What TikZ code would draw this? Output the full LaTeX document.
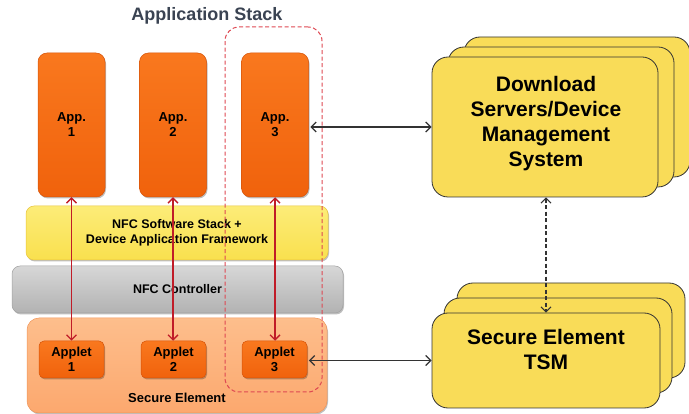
\documentclass[tikz,border=0pt]{standalone}
\usepackage{fontspec}
\setmainfont{Liberation Sans}
\usetikzlibrary{arrows.meta,shadows}
\definecolor{appedge}{RGB}{214,84,10}
\definecolor{appdark}{RGB}{240,98,12}
\definecolor{applight}{RGB}{249,120,30}
\definecolor{ylbar}{RGB}{249,224,78}
\definecolor{ylbarlt}{RGB}{252,236,120}
\definecolor{ylbaredge}{RGB}{232,196,58}
\definecolor{ylbox}{RGB}{249,220,88}
\definecolor{grbar}{RGB}{178,178,178}
\definecolor{grbarlt}{RGB}{215,215,215}
\definecolor{gredge}{RGB}{160,160,160}
\definecolor{sefill}{RGB}{252,168,110}
\definecolor{selight}{RGB}{253,190,140}
\definecolor{seedge}{RGB}{240,150,90}
\definecolor{redarr}{RGB}{192,28,40}
\definecolor{reddash}{RGB}{222,72,82}
\definecolor{titlecol}{RGB}{58,67,82}
\tikzset{
  softshadow/.style={drop shadow={shadow xshift=1pt,shadow yshift=-1.5pt,opacity=0.25,fill=black}},
  appbox/.style={rounded corners=9pt,draw=appedge,line width=0.5pt,top color=applight,bottom color=appdark,softshadow,
    minimum width=67pt,minimum height=144pt,font=\bfseries\fontsize{13}{15}\selectfont,align=center,inner sep=0pt},
  appletbox/.style={rounded corners=5pt,draw=appedge,line width=0.5pt,top color=applight,bottom color=appdark,softshadow,
    minimum width=65pt,minimum height=37pt,font=\bfseries\fontsize{13}{15.5}\selectfont,align=center,inner sep=0pt},
  barbox/.style={rounded corners=8pt,line width=0.5pt,softshadow,font=\bfseries\fontsize{12.5}{15.5}\selectfont,align=center,inner sep=0pt},
  bigbox/.style={rounded corners=16pt,draw=black!80,line width=0.8pt,fill=ylbox,minimum width=226pt,inner sep=0pt},
  bigtext/.style={font=\bfseries\fontsize{21}{25}\selectfont,align=center,inner sep=0pt},
  redarrow/.style={draw=redarr,line width=1.3pt,{Straight Barb[length=5pt,width=10pt]}-{Straight Barb[length=5pt,width=10pt]}},
  blkarrow/.style={draw=black!80,line width=1.3pt,{Straight Barb[length=5pt,width=10pt]}-{Straight Barb[length=5pt,width=10pt]}},
  dasharrow/.style={blkarrow,line width=1.1pt,dash pattern=on 4pt off 2.5pt},
  stackframe/.style={draw=reddash,line width=1pt,dash pattern=on 4pt off 2.5pt,rounded corners=14pt,inner sep=0pt,
    minimum width=97pt,minimum height=365pt}
}
\begin{document}
\begin{tikzpicture}[x=1pt,y=-1pt]
\useasboundingbox (0,0) rectangle (689,414);
% title
\node[font=\bfseries\fontsize{18}{20}\selectfont,text=titlecol,inner sep=0pt] (title) at (207,16) {Application Stack};
% apps
\node[appbox] (app1) at (71.5,125) {App.\\1};
\node[appbox] (app2) at (173,125) {App.\\2};
\node[appbox] (app3) at (275,125) {App.\\3};
% layers
\node[barbox,draw=ylbaredge,top color=ylbarlt,bottom color=ylbar,minimum width=302pt,minimum height=54pt] (sw) at (177,233)
  {NFC Software Stack +\\Device Application Framework};
\node[barbox,draw=gredge,top color=grbarlt,bottom color=grbar,minimum width=331pt,minimum height=47pt] (ctrl) at (177.5,289.5)
  {NFC Controller};
\node[barbox,draw=seedge,top color=selight,bottom color=sefill,minimum width=300pt,minimum height=95pt,rounded corners=12pt] (se) at (177,365.5) {};
\node[font=\bfseries\fontsize{13}{15}\selectfont,inner sep=0pt] (selabel) at (177,398) {Secure Element};
% applets
\node[appletbox] (applet1) at (71.5,359.5) {Applet\\1};
\node[appletbox] (applet2) at (173.5,359.5) {Applet\\2};
\node[appletbox] (applet3) at (274.5,359.5) {Applet\\3};
% stack frame
\node[stackframe] (stack) at (273.5,209.5) {};
% DMS stacked boxes
\node[bigbox,minimum height=140pt] (dmsback) at (577,107) {};
\node[bigbox,minimum height=140pt] (dmsmid) at (561,117) {};
\node[bigbox,minimum height=140pt] (dms) at (545,127) {};
\node[bigtext] (dmstext) at (546,123.5) {Download\\Servers/Device\\Management\\System};
% TSM stacked boxes
\node[bigbox,minimum width=228pt,minimum height=95pt] (tsmback) at (571,330.5) {};
\node[bigbox,minimum width=228pt,minimum height=95pt] (tsmmid) at (558,345.5) {};
\node[bigbox,minimum width=228pt,minimum height=95pt] (tsm) at (546,360.5) {};
\node[bigtext] (tsmtext) at (546,349.5) {Secure Element\\TSM};
% connectors
\draw[redarrow] (app1.south) -- (applet1.north);
\draw[redarrow] (app2.south) -- (app2.south |- applet2.north);
\draw[redarrow] (app3.south) -- (app3.south |- applet3.north);
\draw[blkarrow] (dms.west -| app3.east) ++(1.5,0) -- (dms.west);
\draw[blkarrow] (tsm.west -| applet3.east) ++(1.5,0) -- (tsm.west);
\draw[dasharrow] (dms.south) ++(1,0) -- ([xshift=1pt]dms.south |- tsm.north);
\end{tikzpicture}
\end{document}
